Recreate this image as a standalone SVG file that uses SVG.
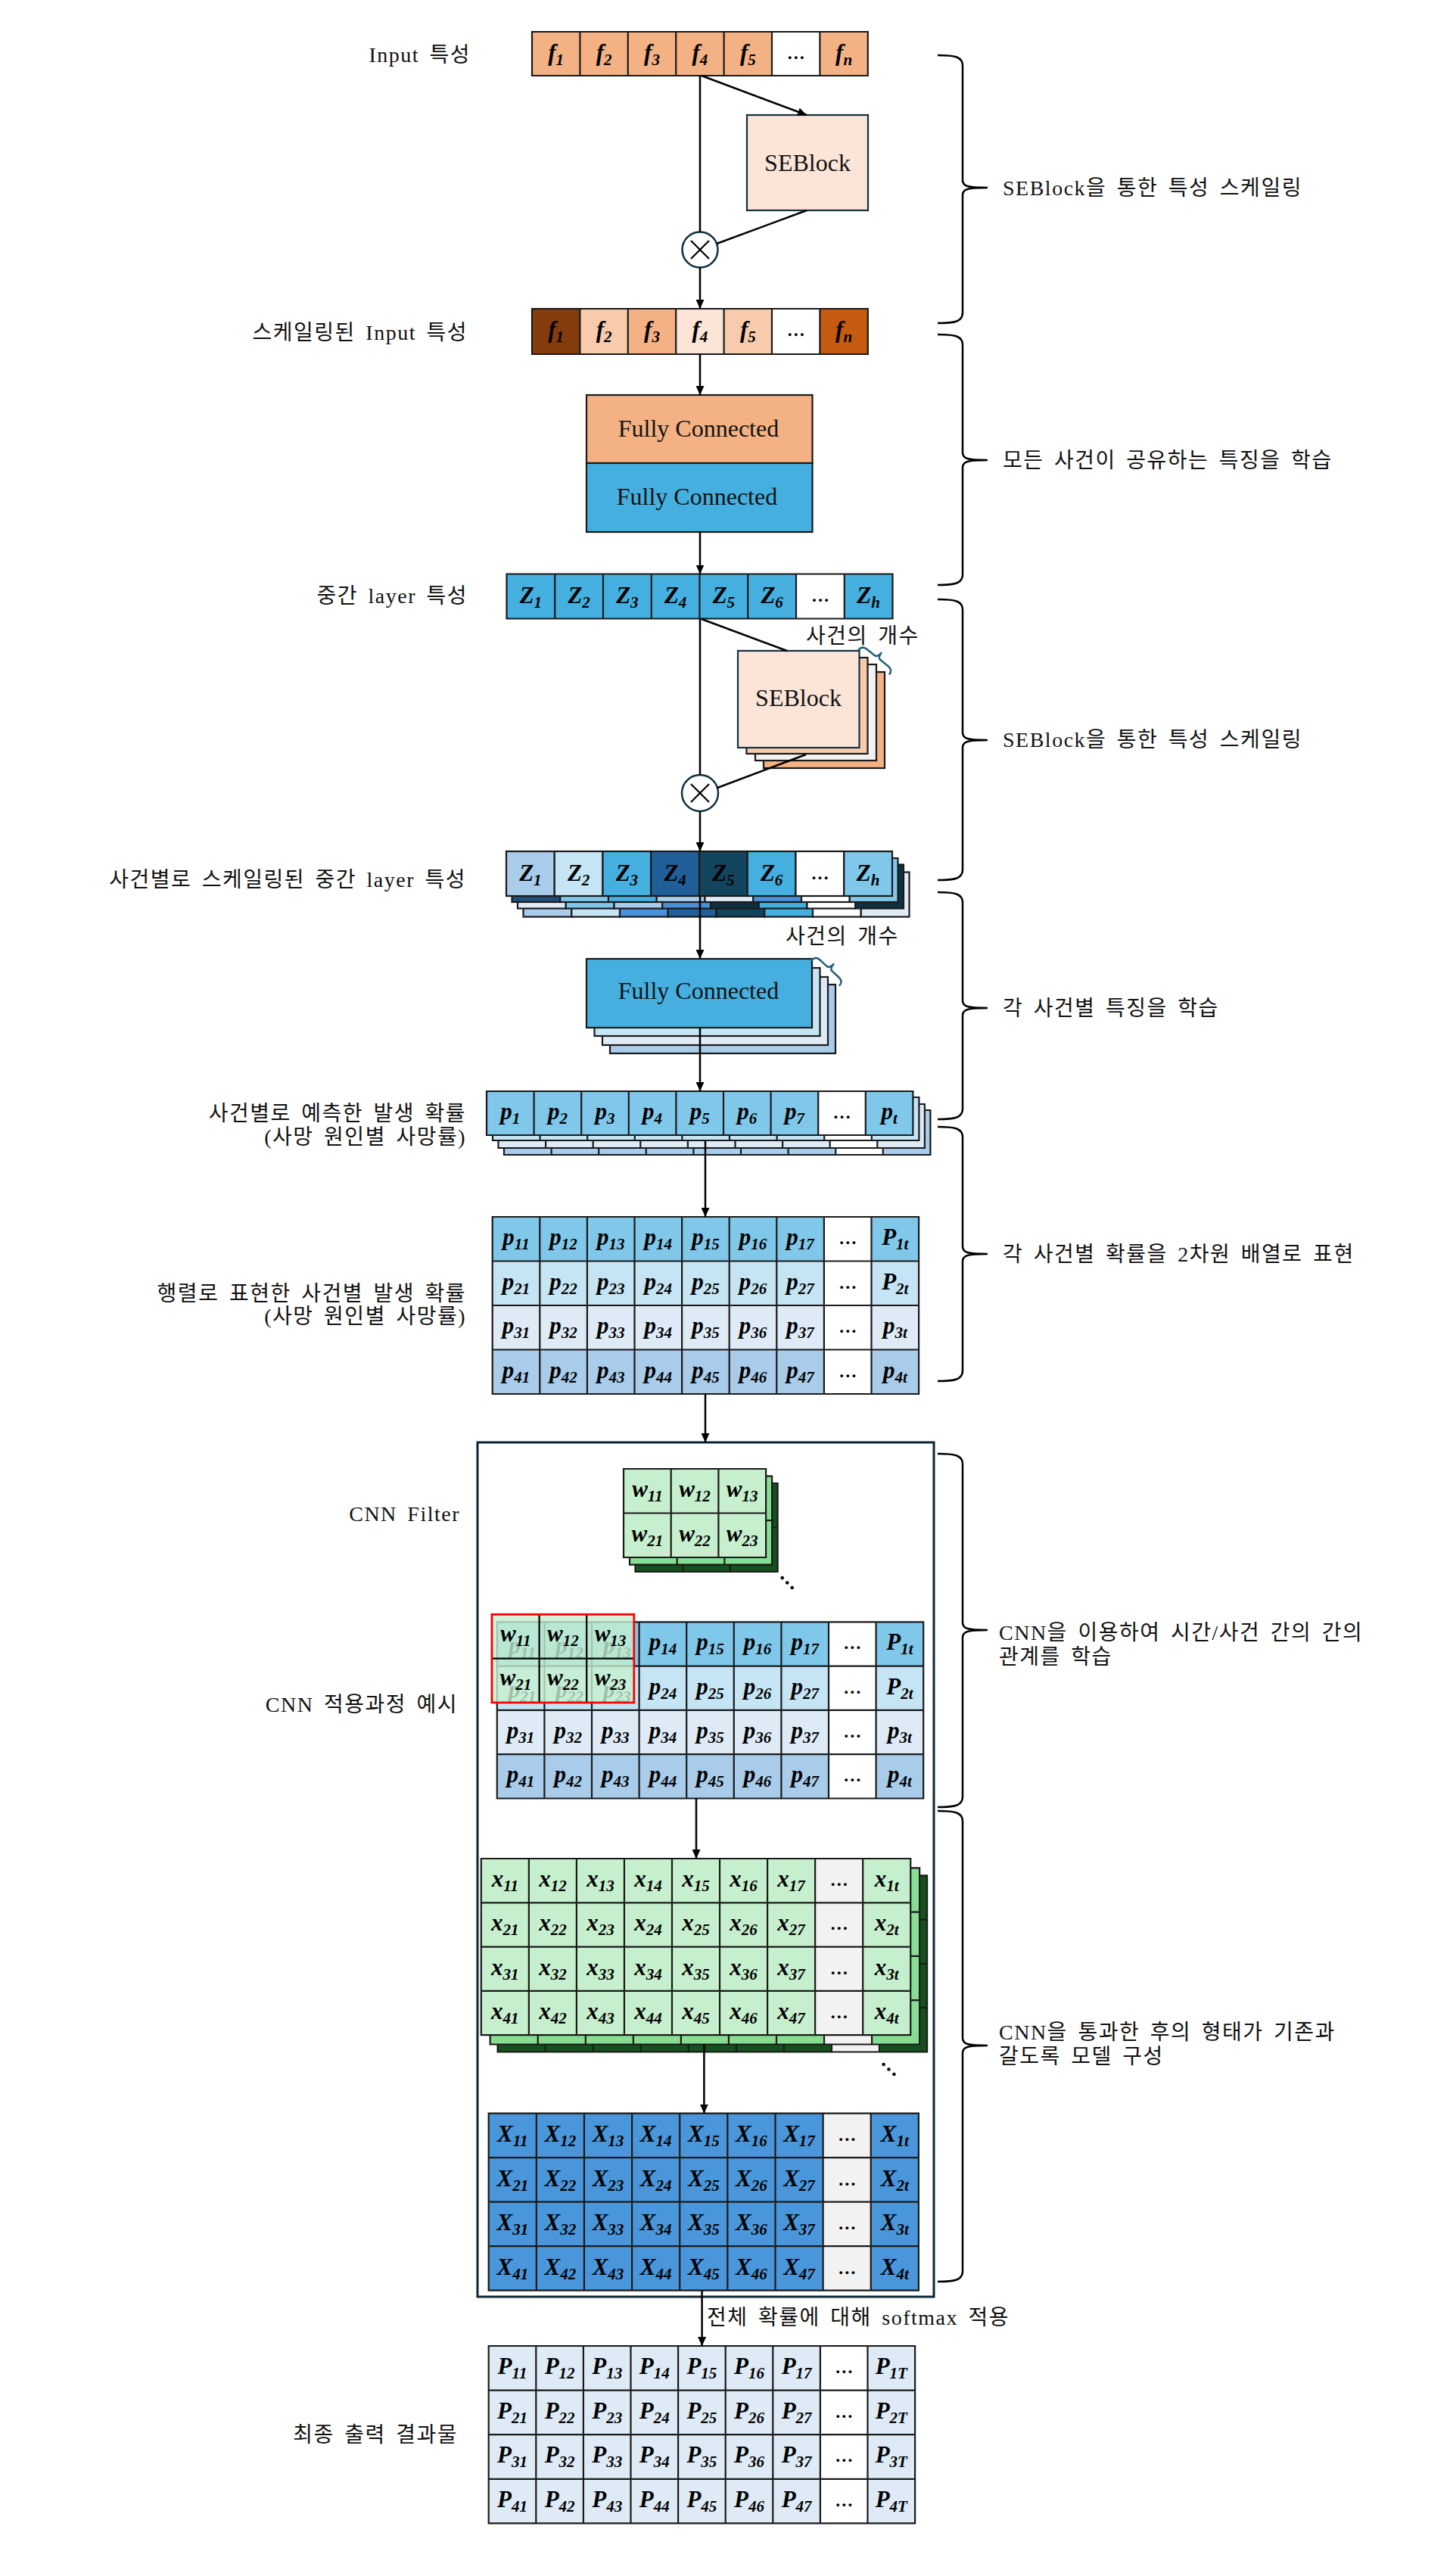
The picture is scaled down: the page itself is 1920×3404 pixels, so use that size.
<svg xmlns="http://www.w3.org/2000/svg" width="1920" height="3404" viewBox="0 0 1920 3404">
<defs>
<style>
.k{stroke:#1a1a1a;stroke-width:2.2}
.g{stroke:#1a1a1a;stroke-width:2.2;fill:none}
.m{font-family:"Liberation Serif",serif;font-weight:bold;font-style:italic;font-size:31px;text-anchor:middle;fill:#000}
.s{font-size:21px}
.d{font-family:"Liberation Serif",serif;font-weight:bold;font-size:24px;text-anchor:middle;fill:#000}
.lbl{font-family:"Liberation Serif","Noto Sans CJK KR",sans-serif;font-size:28px;fill:#111;word-spacing:5px;letter-spacing:1.5px}
.r{text-anchor:end}
.bx{font-family:"Liberation Serif",serif;font-size:32px;text-anchor:middle;fill:#111}
.cn{stroke:#000;stroke-width:2.5;fill:none}
.br{stroke:#000;stroke-width:2.5;fill:none}
.tb{stroke:#245F7E;stroke-width:2.5;fill:none}
</style>
<marker id="ah" markerWidth="12" markerHeight="11" refX="12" refY="5.5" orient="auto" markerUnits="userSpaceOnUse"><path d="M0,0 L12,5.5 L0,11 z" fill="#000"/></marker>
</defs>
<rect width="1920" height="3404" fill="#fff"/>

<g id="left-labels">
<text class="lbl r" x="622" y="82">Input 특성</text>
<text class="lbl r" x="618" y="449">스케일링된 Input 특성</text>
<text class="lbl r" x="618" y="797">중간 layer 특성</text>
<text class="lbl r" x="616" y="1172">사건별로 스케일링된 중간 layer 특성</text>
<text class="lbl r" x="616" y="1481">사건별로 예측한 발생 확률</text>
<text class="lbl r" x="616" y="1512">(사망 원인별 사망률)</text>
<text class="lbl r" x="616" y="1719">행렬로 표현한 사건별 발생 확률</text>
<text class="lbl r" x="616" y="1749">(사망 원인별 사망률)</text>
<text class="lbl r" x="608" y="2010">CNN Filter</text>
<text class="lbl r" x="605" y="2262">CNN 적용과정 예시</text>
<text class="lbl r" x="605" y="3227">최종 출력 결과물</text>
</g>

<g id="input-features">
<rect x="703" y="42" width="443.8" height="58" fill="#F4B183"/>
<rect x="1020" y="42" width="63.4" height="58" fill="#fff"/>
<path class="g" d="M703,42h443.8v58h-443.8z M766.4,42v58 M829.8,42v58 M893.2,42v58 M956.6,42v58 M1020,42v58 M1083.4,42v58"/>
<text class="m" x="734.7" y="80">f<tspan class="s" dy="6">1</tspan></text>
<text class="m" x="798.1" y="80">f<tspan class="s" dy="6">2</tspan></text>
<text class="m" x="861.5" y="80">f<tspan class="s" dy="6">3</tspan></text>
<text class="m" x="924.9" y="80">f<tspan class="s" dy="6">4</tspan></text>
<text class="m" x="988.3" y="80">f<tspan class="s" dy="6">5</tspan></text>
<text class="d" x="1051.7" y="78">…</text>
<text class="m" x="1115.1" y="80">f<tspan class="s" dy="6">n</tspan></text>
</g>

<g id="seblock-1">
<rect x="987" y="152" width="160" height="126" fill="#FCE4D6" stroke="#14303F" stroke-width="2.2"/>
<text class="bx" x="1067" y="226">SEBlock</text>
</g>

<g id="multiply-1">
<circle cx="925" cy="330" r="23.5" fill="#fff" stroke="#12303F" stroke-width="2.5"/>
<path d="M913,318 L937,342 M937,318 L913,342" stroke="#000" stroke-width="2.2"/>
</g>

<g id="scaled-input-features">
<rect x="703" y="408" width="63.4" height="60" fill="#843C0C"/>
<rect x="766.4" y="408" width="63.4" height="60" fill="#F8CBAD"/>
<rect x="829.8" y="408" width="63.4" height="60" fill="#F4B183"/>
<rect x="893.2" y="408" width="63.4" height="60" fill="#FCE4D6"/>
<rect x="956.6" y="408" width="63.4" height="60" fill="#F8CBAD"/>
<rect x="1020" y="408" width="63.4" height="60" fill="#fff"/>
<rect x="1083.4" y="408" width="63.4" height="60" fill="#C55A11"/>
<path class="g" d="M703,408h443.8v60h-443.8z M766.4,408v60 M829.8,408v60 M893.2,408v60 M956.6,408v60 M1020,408v60 M1083.4,408v60"/>
<text class="m" x="734.7" y="446">f<tspan class="s" dy="6">1</tspan></text>
<text class="m" x="798.1" y="446">f<tspan class="s" dy="6">2</tspan></text>
<text class="m" x="861.5" y="446">f<tspan class="s" dy="6">3</tspan></text>
<text class="m" x="924.9" y="446">f<tspan class="s" dy="6">4</tspan></text>
<text class="m" x="988.3" y="446">f<tspan class="s" dy="6">5</tspan></text>
<text class="d" x="1051.7" y="444">…</text>
<text class="m" x="1115.1" y="446">f<tspan class="s" dy="6">n</tspan></text>
</g>

<g id="fc-shared">
<rect class="k" x="775" y="522" width="298.5" height="90" fill="#F4B183"/>
<rect class="k" x="775" y="612" width="298.5" height="91" fill="#45B0E0"/>
<text class="bx" x="923" y="577">Fully Connected</text>
<text class="bx" x="921" y="667">Fully Connected</text>
</g>

<g id="intermediate-features">
<rect x="669.5" y="758.5" width="510" height="59" fill="#45B0E0"/>
<rect x="1052" y="758.5" width="63.75" height="59" fill="#fff"/>
<path class="g" d="M669.5,758.5h510v59h-510z M733.25,758.5v59 M797,758.5v59 M860.75,758.5v59 M924.5,758.5v59 M988.25,758.5v59 M1052,758.5v59 M1115.75,758.5v59"/>
<text class="m" x="701.4" y="797">Z<tspan class="s" dy="6">1</tspan></text>
<text class="m" x="765.1" y="797">Z<tspan class="s" dy="6">2</tspan></text>
<text class="m" x="828.9" y="797">Z<tspan class="s" dy="6">3</tspan></text>
<text class="m" x="892.6" y="797">Z<tspan class="s" dy="6">4</tspan></text>
<text class="m" x="956.4" y="797">Z<tspan class="s" dy="6">5</tspan></text>
<text class="m" x="1020.1" y="797">Z<tspan class="s" dy="6">6</tspan></text>
<text class="d" x="1083.9" y="795">…</text>
<text class="m" x="1147.6" y="797">Z<tspan class="s" dy="6">h</tspan></text>
</g>

<g id="seblock-2-stack">
<rect class="k" x="1009" y="888" width="160" height="127" fill="#F4B183"/>
<rect class="k" x="998" y="878" width="160" height="127" fill="#F2F2F2"/>
<rect class="k" x="986.5" y="869" width="160" height="127" fill="#F8CBAD"/>
<rect x="975" y="860" width="160.5" height="128" fill="#FCE4D6" stroke="#14303F" stroke-width="2.2"/>
<text class="bx" x="1055" y="933">SEBlock</text>
<text class="lbl" x="1065" y="850">사건의 개수</text>
<path class="tb" transform="translate(1159.5,869) rotate(38.3)" d="M-26,8 Q-26,0 -18,0 L-5,0 Q0,0 0,-9 Q0,0 5,0 L18,0 Q26,0 26,8"/>
</g>

<g id="multiply-2">
<circle cx="925" cy="1048" r="24" fill="#fff" stroke="#12303F" stroke-width="2.5"/>
<path d="M913,1036 L937,1060 M937,1036 L913,1060" stroke="#000" stroke-width="2.2"/>
</g>

<g id="scaled-intermediate-stack">
<rect class="k" x="691.5" y="1152.5" width="63.75" height="59" fill="#A9CCEB"/>
<rect class="k" x="755.25" y="1152.5" width="63.75" height="59" fill="#C5E5F5"/>
<rect class="k" x="819" y="1152.5" width="63.75" height="59" fill="#4A90D9"/>
<rect class="k" x="882.75" y="1152.5" width="63.75" height="59" fill="#215F9A"/>
<rect class="k" x="946.5" y="1152.5" width="63.75" height="59" fill="#12445E"/>
<rect class="k" x="1010.25" y="1152.5" width="63.75" height="59" fill="#45B0E0"/>
<rect class="k" x="1074" y="1152.5" width="63.75" height="59" fill="#fff"/>
<rect class="k" x="1137.75" y="1152.5" width="63.75" height="59" fill="#DEEBF7"/>

<rect class="k" x="684" y="1142.5" width="63.75" height="58" fill="#DEEBF7"/>
<rect class="k" x="747.75" y="1142.5" width="63.75" height="58" fill="#80C8EA"/>
<rect class="k" x="811.5" y="1142.5" width="63.75" height="58" fill="#A9CCEB"/>
<rect class="k" x="875.25" y="1142.5" width="63.75" height="58" fill="#4A90D9"/>
<rect class="k" x="939" y="1142.5" width="63.75" height="58" fill="#0F3040"/>
<rect class="k" x="1002.75" y="1142.5" width="63.75" height="58" fill="#45B0E0"/>
<rect class="k" x="1066.5" y="1142.5" width="63.75" height="58" fill="#fff"/>
<rect class="k" x="1130.25" y="1142.5" width="63.75" height="58" fill="#0F3040"/>

<rect class="k" x="676.5" y="1134" width="63.75" height="58" fill="#1F4E79"/>
<rect class="k" x="740.25" y="1134" width="63.75" height="58" fill="#80C8EA"/>
<rect class="k" x="804" y="1134" width="63.75" height="58" fill="#45B0E0"/>
<rect class="k" x="867.75" y="1134" width="63.75" height="58" fill="#A9CCEB"/>
<rect class="k" x="931.5" y="1134" width="63.75" height="58" fill="#DEEBF7"/>
<rect class="k" x="995.25" y="1134" width="63.75" height="58" fill="#4A90D9"/>
<rect class="k" x="1059" y="1134" width="63.75" height="58" fill="#fff"/>
<rect class="k" x="1122.75" y="1134" width="63.75" height="58" fill="#80C8EA"/>

<rect class="k" x="669" y="1125" width="63.75" height="59" fill="#A9CCEB"/>
<rect class="k" x="732.75" y="1125" width="63.75" height="59" fill="#C5E5F5"/>
<rect class="k" x="796.5" y="1125" width="63.75" height="59" fill="#45B0E0"/>
<rect class="k" x="860.25" y="1125" width="63.75" height="59" fill="#215F9A"/>
<rect class="k" x="924" y="1125" width="63.75" height="59" fill="#12445E"/>
<rect class="k" x="987.75" y="1125" width="63.75" height="59" fill="#45B0E0"/>
<rect class="k" x="1051.5" y="1125" width="63.75" height="59" fill="#fff"/>
<rect class="k" x="1115.25" y="1125" width="63.75" height="59" fill="#80C8EA"/>
<text class="m" x="700.9" y="1163.5">Z<tspan class="s" dy="6">1</tspan></text>
<text class="m" x="764.6" y="1163.5">Z<tspan class="s" dy="6">2</tspan></text>
<text class="m" x="828.4" y="1163.5">Z<tspan class="s" dy="6">3</tspan></text>
<text class="m" x="892.1" y="1163.5">Z<tspan class="s" dy="6">4</tspan></text>
<text class="m" x="955.9" y="1163.5">Z<tspan class="s" dy="6">5</tspan></text>
<text class="m" x="1019.6" y="1163.5">Z<tspan class="s" dy="6">6</tspan></text>
<text class="d" x="1083.4" y="1161.5">…</text>
<text class="m" x="1147.1" y="1163.5">Z<tspan class="s" dy="6">h</tspan></text>
</g>

<g id="fc-per-event-stack">
<rect class="k" x="806" y="1301" width="298" height="91" fill="#A9CCEB"/>
<rect class="k" x="796" y="1291" width="298" height="90" fill="#DEEBF7"/>
<rect class="k" x="785.5" y="1279" width="298" height="90" fill="#C5E5F5"/>
<rect class="k" x="775" y="1267" width="298" height="91" fill="#45B0E0"/>
<text class="bx" x="923" y="1320">Fully Connected</text>
<text class="lbl" x="1038" y="1247">사건의 개수</text>
<path class="tb" transform="translate(1096,1280) rotate(42.7)" d="M-25,8 Q-25,0 -17,0 L-5,0 Q0,0 0,-9 Q0,0 5,0 L17,0 Q25,0 25,8"/>
</g>

<g id="event-prob-stack">
<rect x="666" y="1467" width="563.4" height="59" fill="#A9CCEB"/>
<rect x="1104.2" y="1467" width="62.6" height="59" fill="#fff"/>
<path class="g" d="M666,1467h563.4v59h-563.4z M728.6,1467v59 M791.2,1467v59 M853.8,1467v59 M916.4,1467v59 M979,1467v59 M1041.6,1467v59 M1104.2,1467v59 M1166.8,1467v59"/>
<rect x="658.5" y="1459" width="563.4" height="58" fill="#DEEBF7"/>
<rect x="1096.7" y="1459" width="62.6" height="58" fill="#fff"/>
<path class="g" d="M658.5,1459h563.4v58h-563.4z M721.1,1459v58 M783.7,1459v58 M846.3,1459v58 M908.9,1459v58 M971.5,1459v58 M1034.1,1459v58 M1096.7,1459v58 M1159.3,1459v58"/>
<rect x="651" y="1450" width="563.4" height="57" fill="#C5E5F5"/>
<rect x="1089.2" y="1450" width="62.6" height="57" fill="#fff"/>
<path class="g" d="M651,1450h563.4v57h-563.4z M713.6,1450v57 M776.2,1450v57 M838.8,1450v57 M901.4,1450v57 M964,1450v57 M1026.6,1450v57 M1089.2,1450v57 M1151.8,1450v57"/>
<rect x="643" y="1442" width="563.4" height="58" fill="#80C8EA"/>
<rect x="1081.2" y="1442" width="62.6" height="58" fill="#fff"/>
<path class="g" d="M643,1442h563.4v58h-563.4z M705.6,1442v58 M768.2,1442v58 M830.8,1442v58 M893.4,1442v58 M956,1442v58 M1018.6,1442v58 M1081.2,1442v58 M1143.8,1442v58"/>
<text class="m" x="674.3" y="1479">p<tspan class="s" dy="6">1</tspan></text>
<text class="m" x="736.9" y="1479">p<tspan class="s" dy="6">2</tspan></text>
<text class="m" x="799.5" y="1479">p<tspan class="s" dy="6">3</tspan></text>
<text class="m" x="862.1" y="1479">p<tspan class="s" dy="6">4</tspan></text>
<text class="m" x="924.7" y="1479">p<tspan class="s" dy="6">5</tspan></text>
<text class="m" x="987.3" y="1479">p<tspan class="s" dy="6">6</tspan></text>
<text class="m" x="1049.9" y="1479">p<tspan class="s" dy="6">7</tspan></text>
<text class="d" x="1112.5" y="1478">…</text>
<text class="m" x="1175.1" y="1479">p<tspan class="s" dy="6">t</tspan></text>
</g>

<g id="prob-matrix">
<rect x="650.7" y="1608" width="563.4" height="58.5" fill="#80C8EA"/>
<rect x="650.7" y="1666.5" width="563.4" height="58.5" fill="#C5E5F5"/>
<rect x="650.7" y="1725" width="563.4" height="58.5" fill="#DEEBF7"/>
<rect x="650.7" y="1783.5" width="563.4" height="58.5" fill="#A9CCEB"/>
<rect x="1088.9" y="1608" width="62.6" height="234" fill="#fff"/>
<path class="g" d="M650.7,1608h563.4v234h-563.4z M713.3,1608v234 M775.9,1608v234 M838.5,1608v234 M901.1,1608v234 M963.7,1608v234 M1026.3,1608v234 M1088.9,1608v234 M1151.5,1608v234 M650.7,1666.5h563.4 M650.7,1725h563.4 M650.7,1783.5h563.4"/>
<text class="m" x="682" y="1645">p<tspan class="s" dy="6">11</tspan></text>
<text class="m" x="744.6" y="1645">p<tspan class="s" dy="6">12</tspan></text>
<text class="m" x="807.2" y="1645">p<tspan class="s" dy="6">13</tspan></text>
<text class="m" x="869.8" y="1645">p<tspan class="s" dy="6">14</tspan></text>
<text class="m" x="932.4" y="1645">p<tspan class="s" dy="6">15</tspan></text>
<text class="m" x="995" y="1645">p<tspan class="s" dy="6">16</tspan></text>
<text class="m" x="1057.6" y="1645">p<tspan class="s" dy="6">17</tspan></text>
<text class="d" x="1120.2" y="1644">…</text>
<text class="m" x="1182.8" y="1645">P<tspan class="s" dy="6">1t</tspan></text>
<text class="m" x="682" y="1703.5">p<tspan class="s" dy="6">21</tspan></text>
<text class="m" x="744.6" y="1703.5">p<tspan class="s" dy="6">22</tspan></text>
<text class="m" x="807.2" y="1703.5">p<tspan class="s" dy="6">23</tspan></text>
<text class="m" x="869.8" y="1703.5">p<tspan class="s" dy="6">24</tspan></text>
<text class="m" x="932.4" y="1703.5">p<tspan class="s" dy="6">25</tspan></text>
<text class="m" x="995" y="1703.5">p<tspan class="s" dy="6">26</tspan></text>
<text class="m" x="1057.6" y="1703.5">p<tspan class="s" dy="6">27</tspan></text>
<text class="d" x="1120.2" y="1702.5">…</text>
<text class="m" x="1182.8" y="1703.5">P<tspan class="s" dy="6">2t</tspan></text>
<text class="m" x="682" y="1762">p<tspan class="s" dy="6">31</tspan></text>
<text class="m" x="744.6" y="1762">p<tspan class="s" dy="6">32</tspan></text>
<text class="m" x="807.2" y="1762">p<tspan class="s" dy="6">33</tspan></text>
<text class="m" x="869.8" y="1762">p<tspan class="s" dy="6">34</tspan></text>
<text class="m" x="932.4" y="1762">p<tspan class="s" dy="6">35</tspan></text>
<text class="m" x="995" y="1762">p<tspan class="s" dy="6">36</tspan></text>
<text class="m" x="1057.6" y="1762">p<tspan class="s" dy="6">37</tspan></text>
<text class="d" x="1120.2" y="1761">…</text>
<text class="m" x="1182.8" y="1762">p<tspan class="s" dy="6">3t</tspan></text>
<text class="m" x="682" y="1820.5">p<tspan class="s" dy="6">41</tspan></text>
<text class="m" x="744.6" y="1820.5">p<tspan class="s" dy="6">42</tspan></text>
<text class="m" x="807.2" y="1820.5">p<tspan class="s" dy="6">43</tspan></text>
<text class="m" x="869.8" y="1820.5">p<tspan class="s" dy="6">44</tspan></text>
<text class="m" x="932.4" y="1820.5">p<tspan class="s" dy="6">45</tspan></text>
<text class="m" x="995" y="1820.5">p<tspan class="s" dy="6">46</tspan></text>
<text class="m" x="1057.6" y="1820.5">p<tspan class="s" dy="6">47</tspan></text>
<text class="d" x="1120.2" y="1819.5">…</text>
<text class="m" x="1182.8" y="1820.5">p<tspan class="s" dy="6">4t</tspan></text>
</g>

<g id="cnn-box">
<rect x="631" y="1906" width="603" height="1129" fill="none" stroke="#0B2535" stroke-width="3"/>
</g>

<g id="cnn-filter-stack">
<rect x="839.5" y="1960" width="188.1" height="117" fill="#17501F"/>
<path class="g" d="M839.5,1960h188.1v117h-188.1z M902.2,1960v117 M964.9,1960v117 M839.5,2018.5h188.1"/>
<rect x="832" y="1950.7" width="188.1" height="117" fill="#86DE92"/>
<path class="g" d="M832,1950.7h188.1v117h-188.1z M894.7,1950.7v117 M957.4,1950.7v117 M832,2009.2h188.1"/>
<rect x="824" y="1941" width="188.1" height="117" fill="#C6EFCE"/>
<path class="g" d="M824,1941h188.1v117h-188.1z M886.7,1941v117 M949.4,1941v117 M824,1999.5h188.1"/>
<text class="m" x="855.4" y="1978">w<tspan class="s" dy="6">11</tspan></text>
<text class="m" x="918" y="1978">w<tspan class="s" dy="6">12</tspan></text>
<text class="m" x="980.7" y="1978">w<tspan class="s" dy="6">13</tspan></text>
<text class="m" x="855.4" y="2036.5">w<tspan class="s" dy="6">21</tspan></text>
<text class="m" x="918" y="2036.5">w<tspan class="s" dy="6">22</tspan></text>
<text class="m" x="980.7" y="2036.5">w<tspan class="s" dy="6">23</tspan></text>
<circle cx="1033.7" cy="2085" r="2.3" fill="#000"/>
<circle cx="1040.2" cy="2091.5" r="2.3" fill="#000"/>
<circle cx="1046.7" cy="2098" r="2.3" fill="#000"/>
</g>

<g id="cnn-example">
<rect x="656.8" y="2143.3" width="563.4" height="58.3" fill="#80C8EA"/>
<rect x="656.8" y="2201.6" width="563.4" height="58.3" fill="#C5E5F5"/>
<rect x="656.8" y="2259.9" width="563.4" height="58.3" fill="#DEEBF7"/>
<rect x="656.8" y="2318.2" width="563.4" height="58.3" fill="#A9CCEB"/>
<rect x="1095" y="2143.3" width="62.6" height="233.2" fill="#fff"/>
<path class="g" d="M656.8,2143.3h563.4v233.2h-563.4z M719.4,2143.3v233.2 M782,2143.3v233.2 M844.6,2143.3v233.2 M907.2,2143.3v233.2 M969.8,2143.3v233.2 M1032.4,2143.3v233.2 M1095,2143.3v233.2 M1157.6,2143.3v233.2 M656.8,2201.6h563.4 M656.8,2259.9h563.4 M656.8,2318.2h563.4"/>
<text class="m" x="690" y="2185">p<tspan class="s" dy="6">11</tspan></text>
<text class="m" x="752.6" y="2185">p<tspan class="s" dy="6">12</tspan></text>
<text class="m" x="815.2" y="2185">p<tspan class="s" dy="6">13</tspan></text>
<text class="m" x="875.9" y="2180.3">p<tspan class="s" dy="6">14</tspan></text>
<text class="m" x="938.5" y="2180.3">p<tspan class="s" dy="6">15</tspan></text>
<text class="m" x="1001.1" y="2180.3">p<tspan class="s" dy="6">16</tspan></text>
<text class="m" x="1063.7" y="2180.3">p<tspan class="s" dy="6">17</tspan></text>
<text class="d" x="1126.3" y="2179.3">…</text>
<text class="m" x="1188.9" y="2180.3">P<tspan class="s" dy="6">1t</tspan></text>
<text class="m" x="690" y="2243.3">p<tspan class="s" dy="6">21</tspan></text>
<text class="m" x="752.6" y="2243.3">p<tspan class="s" dy="6">22</tspan></text>
<text class="m" x="815.2" y="2243.3">p<tspan class="s" dy="6">23</tspan></text>
<text class="m" x="875.9" y="2238.6">p<tspan class="s" dy="6">24</tspan></text>
<text class="m" x="938.5" y="2238.6">p<tspan class="s" dy="6">25</tspan></text>
<text class="m" x="1001.1" y="2238.6">p<tspan class="s" dy="6">26</tspan></text>
<text class="m" x="1063.7" y="2238.6">p<tspan class="s" dy="6">27</tspan></text>
<text class="d" x="1126.3" y="2237.6">…</text>
<text class="m" x="1188.9" y="2238.6">P<tspan class="s" dy="6">2t</tspan></text>
<text class="m" x="688.1" y="2296.9">p<tspan class="s" dy="6">31</tspan></text>
<text class="m" x="750.7" y="2296.9">p<tspan class="s" dy="6">32</tspan></text>
<text class="m" x="813.3" y="2296.9">p<tspan class="s" dy="6">33</tspan></text>
<text class="m" x="875.9" y="2296.9">p<tspan class="s" dy="6">34</tspan></text>
<text class="m" x="938.5" y="2296.9">p<tspan class="s" dy="6">35</tspan></text>
<text class="m" x="1001.1" y="2296.9">p<tspan class="s" dy="6">36</tspan></text>
<text class="m" x="1063.7" y="2296.9">p<tspan class="s" dy="6">37</tspan></text>
<text class="d" x="1126.3" y="2295.9">…</text>
<text class="m" x="1188.9" y="2296.9">p<tspan class="s" dy="6">3t</tspan></text>
<text class="m" x="688.1" y="2355.2">p<tspan class="s" dy="6">41</tspan></text>
<text class="m" x="750.7" y="2355.2">p<tspan class="s" dy="6">42</tspan></text>
<text class="m" x="813.3" y="2355.2">p<tspan class="s" dy="6">43</tspan></text>
<text class="m" x="875.9" y="2355.2">p<tspan class="s" dy="6">44</tspan></text>
<text class="m" x="938.5" y="2355.2">p<tspan class="s" dy="6">45</tspan></text>
<text class="m" x="1001.1" y="2355.2">p<tspan class="s" dy="6">46</tspan></text>
<text class="m" x="1063.7" y="2355.2">p<tspan class="s" dy="6">47</tspan></text>
<text class="d" x="1126.3" y="2354.2">…</text>
<text class="m" x="1188.9" y="2355.2">p<tspan class="s" dy="6">4t</tspan></text>
<rect x="650" y="2133.3" width="187.8" height="116.6" fill="#C6EFCE" fill-opacity="0.8"/>
<path d="M712.6,2133.3v116.6 M775.2,2133.3v116.6 M650,2191.6h187.8" stroke="#000" stroke-width="2.2"/>
<rect x="650" y="2133.3" width="187.8" height="116.6" fill="none" stroke="#FF0000" stroke-width="2.8"/>
<text class="m" x="681.3" y="2169">w<tspan class="s" dy="6">11</tspan></text>
<text class="m" x="743.9" y="2169">w<tspan class="s" dy="6">12</tspan></text>
<text class="m" x="806.5" y="2169">w<tspan class="s" dy="6">13</tspan></text>
<text class="m" x="681.3" y="2227.3">w<tspan class="s" dy="6">21</tspan></text>
<text class="m" x="743.9" y="2227.3">w<tspan class="s" dy="6">22</tspan></text>
<text class="m" x="806.5" y="2227.3">w<tspan class="s" dy="6">23</tspan></text>
</g>

<g id="cnn-output-stack">
<rect x="657.6" y="2478.3" width="567.45" height="233.2" fill="#17501F"/>
<rect x="1098.95" y="2478.3" width="63.05" height="233.2" fill="#F2F2F2"/>
<path class="g" d="M657.6,2478.3h567.45v233.2h-567.45z M720.65,2478.3v233.2 M783.7,2478.3v233.2 M846.75,2478.3v233.2 M909.8,2478.3v233.2 M972.85,2478.3v233.2 M1035.9,2478.3v233.2 M1098.95,2478.3v233.2 M1162,2478.3v233.2 M657.6,2536.6h567.45 M657.6,2594.9h567.45 M657.6,2653.2h567.45"/>
<rect x="647.7" y="2468.3" width="567.45" height="233.2" fill="#86DE92"/>
<rect x="1089.05" y="2468.3" width="63.05" height="233.2" fill="#F2F2F2"/>
<path class="g" d="M647.7,2468.3h567.45v233.2h-567.45z M710.75,2468.3v233.2 M773.8,2468.3v233.2 M836.85,2468.3v233.2 M899.9,2468.3v233.2 M962.95,2468.3v233.2 M1026,2468.3v233.2 M1089.05,2468.3v233.2 M1152.1,2468.3v233.2 M647.7,2526.6h567.45 M647.7,2584.9h567.45 M647.7,2643.2h567.45"/>
<rect x="635.8" y="2456" width="567.45" height="233.2" fill="#C6EFCE"/>
<rect x="1077.15" y="2456" width="63.05" height="233.2" fill="#F2F2F2"/>
<path class="g" d="M635.8,2456h567.45v233.2h-567.45z M698.85,2456v233.2 M761.9,2456v233.2 M824.95,2456v233.2 M888,2456v233.2 M951.05,2456v233.2 M1014.1,2456v233.2 M1077.15,2456v233.2 M1140.2,2456v233.2 M635.8,2514.3h567.45 M635.8,2572.6h567.45 M635.8,2630.9h567.45"/>
<text class="m" x="667.3" y="2493">x<tspan class="s" dy="6">11</tspan></text>
<text class="m" x="730.4" y="2493">x<tspan class="s" dy="6">12</tspan></text>
<text class="m" x="793.4" y="2493">x<tspan class="s" dy="6">13</tspan></text>
<text class="m" x="856.5" y="2493">x<tspan class="s" dy="6">14</tspan></text>
<text class="m" x="919.5" y="2493">x<tspan class="s" dy="6">15</tspan></text>
<text class="m" x="982.6" y="2493">x<tspan class="s" dy="6">16</tspan></text>
<text class="m" x="1045.6" y="2493">x<tspan class="s" dy="6">17</tspan></text>
<text class="d" x="1108.7" y="2492">…</text>
<text class="m" x="1171.7" y="2493">x<tspan class="s" dy="6">1t</tspan></text>
<text class="m" x="667.3" y="2551.3">x<tspan class="s" dy="6">21</tspan></text>
<text class="m" x="730.4" y="2551.3">x<tspan class="s" dy="6">22</tspan></text>
<text class="m" x="793.4" y="2551.3">x<tspan class="s" dy="6">23</tspan></text>
<text class="m" x="856.5" y="2551.3">x<tspan class="s" dy="6">24</tspan></text>
<text class="m" x="919.5" y="2551.3">x<tspan class="s" dy="6">25</tspan></text>
<text class="m" x="982.6" y="2551.3">x<tspan class="s" dy="6">26</tspan></text>
<text class="m" x="1045.6" y="2551.3">x<tspan class="s" dy="6">27</tspan></text>
<text class="d" x="1108.7" y="2550.3">…</text>
<text class="m" x="1171.7" y="2551.3">x<tspan class="s" dy="6">2t</tspan></text>
<text class="m" x="667.3" y="2609.6">x<tspan class="s" dy="6">31</tspan></text>
<text class="m" x="730.4" y="2609.6">x<tspan class="s" dy="6">32</tspan></text>
<text class="m" x="793.4" y="2609.6">x<tspan class="s" dy="6">33</tspan></text>
<text class="m" x="856.5" y="2609.6">x<tspan class="s" dy="6">34</tspan></text>
<text class="m" x="919.5" y="2609.6">x<tspan class="s" dy="6">35</tspan></text>
<text class="m" x="982.6" y="2609.6">x<tspan class="s" dy="6">36</tspan></text>
<text class="m" x="1045.6" y="2609.6">x<tspan class="s" dy="6">37</tspan></text>
<text class="d" x="1108.7" y="2608.6">…</text>
<text class="m" x="1171.7" y="2609.6">x<tspan class="s" dy="6">3t</tspan></text>
<text class="m" x="667.3" y="2667.9">x<tspan class="s" dy="6">41</tspan></text>
<text class="m" x="730.4" y="2667.9">x<tspan class="s" dy="6">42</tspan></text>
<text class="m" x="793.4" y="2667.9">x<tspan class="s" dy="6">43</tspan></text>
<text class="m" x="856.5" y="2667.9">x<tspan class="s" dy="6">44</tspan></text>
<text class="m" x="919.5" y="2667.9">x<tspan class="s" dy="6">45</tspan></text>
<text class="m" x="982.6" y="2667.9">x<tspan class="s" dy="6">46</tspan></text>
<text class="m" x="1045.6" y="2667.9">x<tspan class="s" dy="6">47</tspan></text>
<text class="d" x="1108.7" y="2666.9">…</text>
<text class="m" x="1171.7" y="2667.9">x<tspan class="s" dy="6">4t</tspan></text>
<circle cx="1167.6" cy="2728" r="2.3" fill="#000"/>
<circle cx="1174.5" cy="2734.5" r="2.3" fill="#000"/>
<circle cx="1181.4" cy="2741" r="2.3" fill="#000"/>
</g>

<g id="reshaped-matrix">
<rect x="645.7" y="2792.7" width="568.2" height="234" fill="#4A96DA"/>
<rect x="1087.61" y="2792.7" width="63.13" height="234" fill="#F2F2F2"/>
<path class="g" d="M645.7,2792.7h568.2v234h-568.2z M708.83,2792.7v234 M771.96,2792.7v234 M835.09,2792.7v234 M898.22,2792.7v234 M961.35,2792.7v234 M1024.48,2792.7v234 M1087.61,2792.7v234 M1150.74,2792.7v234 M645.7,2851.2h568.2 M645.7,2909.7h568.2 M645.7,2968.2h568.2"/>
<text class="m" x="677.3" y="2830">X<tspan class="s" dy="6">11</tspan></text>
<text class="m" x="740.4" y="2830">X<tspan class="s" dy="6">12</tspan></text>
<text class="m" x="803.5" y="2830">X<tspan class="s" dy="6">13</tspan></text>
<text class="m" x="866.7" y="2830">X<tspan class="s" dy="6">14</tspan></text>
<text class="m" x="929.8" y="2830">X<tspan class="s" dy="6">15</tspan></text>
<text class="m" x="992.9" y="2830">X<tspan class="s" dy="6">16</tspan></text>
<text class="m" x="1056" y="2830">X<tspan class="s" dy="6">17</tspan></text>
<text class="d" x="1119.2" y="2829">…</text>
<text class="m" x="1182.3" y="2830">X<tspan class="s" dy="6">1t</tspan></text>
<text class="m" x="677.3" y="2888.5">X<tspan class="s" dy="6">21</tspan></text>
<text class="m" x="740.4" y="2888.5">X<tspan class="s" dy="6">22</tspan></text>
<text class="m" x="803.5" y="2888.5">X<tspan class="s" dy="6">23</tspan></text>
<text class="m" x="866.7" y="2888.5">X<tspan class="s" dy="6">24</tspan></text>
<text class="m" x="929.8" y="2888.5">X<tspan class="s" dy="6">25</tspan></text>
<text class="m" x="992.9" y="2888.5">X<tspan class="s" dy="6">26</tspan></text>
<text class="m" x="1056" y="2888.5">X<tspan class="s" dy="6">27</tspan></text>
<text class="d" x="1119.2" y="2887.5">…</text>
<text class="m" x="1182.3" y="2888.5">X<tspan class="s" dy="6">2t</tspan></text>
<text class="m" x="677.3" y="2947">X<tspan class="s" dy="6">31</tspan></text>
<text class="m" x="740.4" y="2947">X<tspan class="s" dy="6">32</tspan></text>
<text class="m" x="803.5" y="2947">X<tspan class="s" dy="6">33</tspan></text>
<text class="m" x="866.7" y="2947">X<tspan class="s" dy="6">34</tspan></text>
<text class="m" x="929.8" y="2947">X<tspan class="s" dy="6">35</tspan></text>
<text class="m" x="992.9" y="2947">X<tspan class="s" dy="6">36</tspan></text>
<text class="m" x="1056" y="2947">X<tspan class="s" dy="6">37</tspan></text>
<text class="d" x="1119.2" y="2946">…</text>
<text class="m" x="1182.3" y="2947">X<tspan class="s" dy="6">3t</tspan></text>
<text class="m" x="677.3" y="3005.5">X<tspan class="s" dy="6">41</tspan></text>
<text class="m" x="740.4" y="3005.5">X<tspan class="s" dy="6">42</tspan></text>
<text class="m" x="803.5" y="3005.5">X<tspan class="s" dy="6">43</tspan></text>
<text class="m" x="866.7" y="3005.5">X<tspan class="s" dy="6">44</tspan></text>
<text class="m" x="929.8" y="3005.5">X<tspan class="s" dy="6">45</tspan></text>
<text class="m" x="992.9" y="3005.5">X<tspan class="s" dy="6">46</tspan></text>
<text class="m" x="1056" y="3005.5">X<tspan class="s" dy="6">47</tspan></text>
<text class="d" x="1119.2" y="3004.5">…</text>
<text class="m" x="1182.3" y="3005.5">X<tspan class="s" dy="6">4t</tspan></text>
</g>

<g id="final-output">
<rect x="645.7" y="3100" width="563.4" height="234.4" fill="#DEEBF7"/>
<rect x="1083.9" y="3100" width="62.6" height="234.4" fill="#fff"/>
<path class="g" d="M645.7,3100h563.4v234.4h-563.4z M708.3,3100v234.4 M770.9,3100v234.4 M833.5,3100v234.4 M896.1,3100v234.4 M958.7,3100v234.4 M1021.3,3100v234.4 M1083.9,3100v234.4 M1146.5,3100v234.4 M645.7,3158.6h563.4 M645.7,3217.2h563.4 M645.7,3275.8h563.4"/>
<text class="m" x="677" y="3137">P<tspan class="s" dy="6">11</tspan></text>
<text class="m" x="739.6" y="3137">P<tspan class="s" dy="6">12</tspan></text>
<text class="m" x="802.2" y="3137">P<tspan class="s" dy="6">13</tspan></text>
<text class="m" x="864.8" y="3137">P<tspan class="s" dy="6">14</tspan></text>
<text class="m" x="927.4" y="3137">P<tspan class="s" dy="6">15</tspan></text>
<text class="m" x="990" y="3137">P<tspan class="s" dy="6">16</tspan></text>
<text class="m" x="1052.6" y="3137">P<tspan class="s" dy="6">17</tspan></text>
<text class="d" x="1115.2" y="3136">…</text>
<text class="m" x="1177.8" y="3137">P<tspan class="s" dy="6">1T</tspan></text>
<text class="m" x="677" y="3195.6">P<tspan class="s" dy="6">21</tspan></text>
<text class="m" x="739.6" y="3195.6">P<tspan class="s" dy="6">22</tspan></text>
<text class="m" x="802.2" y="3195.6">P<tspan class="s" dy="6">23</tspan></text>
<text class="m" x="864.8" y="3195.6">P<tspan class="s" dy="6">24</tspan></text>
<text class="m" x="927.4" y="3195.6">P<tspan class="s" dy="6">25</tspan></text>
<text class="m" x="990" y="3195.6">P<tspan class="s" dy="6">26</tspan></text>
<text class="m" x="1052.6" y="3195.6">P<tspan class="s" dy="6">27</tspan></text>
<text class="d" x="1115.2" y="3194.6">…</text>
<text class="m" x="1177.8" y="3195.6">P<tspan class="s" dy="6">2T</tspan></text>
<text class="m" x="677" y="3254.2">P<tspan class="s" dy="6">31</tspan></text>
<text class="m" x="739.6" y="3254.2">P<tspan class="s" dy="6">32</tspan></text>
<text class="m" x="802.2" y="3254.2">P<tspan class="s" dy="6">33</tspan></text>
<text class="m" x="864.8" y="3254.2">P<tspan class="s" dy="6">34</tspan></text>
<text class="m" x="927.4" y="3254.2">P<tspan class="s" dy="6">35</tspan></text>
<text class="m" x="990" y="3254.2">P<tspan class="s" dy="6">36</tspan></text>
<text class="m" x="1052.6" y="3254.2">P<tspan class="s" dy="6">37</tspan></text>
<text class="d" x="1115.2" y="3253.2">…</text>
<text class="m" x="1177.8" y="3254.2">P<tspan class="s" dy="6">3T</tspan></text>
<text class="m" x="677" y="3312.8">P<tspan class="s" dy="6">41</tspan></text>
<text class="m" x="739.6" y="3312.8">P<tspan class="s" dy="6">42</tspan></text>
<text class="m" x="802.2" y="3312.8">P<tspan class="s" dy="6">43</tspan></text>
<text class="m" x="864.8" y="3312.8">P<tspan class="s" dy="6">44</tspan></text>
<text class="m" x="927.4" y="3312.8">P<tspan class="s" dy="6">45</tspan></text>
<text class="m" x="990" y="3312.8">P<tspan class="s" dy="6">46</tspan></text>
<text class="m" x="1052.6" y="3312.8">P<tspan class="s" dy="6">47</tspan></text>
<text class="d" x="1115.2" y="3311.8">…</text>
<text class="m" x="1177.8" y="3312.8">P<tspan class="s" dy="6">4T</tspan></text>
</g>

<g id="connectors">
<line class="cn" x1="925" y1="100" x2="925" y2="306.5"/>
<line class="cn" x1="927" y1="100" x2="1066" y2="152" marker-end="url(#ah)"/>
<line class="cn" x1="1066" y1="278" x2="947" y2="322"/>
<line class="cn" x1="925" y1="353.5" x2="925" y2="408" marker-end="url(#ah)"/>
<line class="cn" x1="925" y1="468" x2="925" y2="522" marker-end="url(#ah)"/>
<line class="cn" x1="925" y1="703" x2="925" y2="758.5" marker-end="url(#ah)"/>
<line class="cn" x1="925" y1="817.5" x2="925" y2="1024"/>
<line class="cn" x1="927" y1="818" x2="1040" y2="860"/>
<line class="cn" x1="1065" y1="997" x2="948" y2="1041"/>
<line class="cn" x1="925" y1="1072" x2="925" y2="1125" marker-end="url(#ah)"/>
<line class="cn" x1="925" y1="1184" x2="925" y2="1267" marker-end="url(#ah)"/>
<line class="cn" x1="925" y1="1358" x2="925" y2="1442" marker-end="url(#ah)"/>
<line class="cn" x1="932" y1="1507" x2="932" y2="1608" marker-end="url(#ah)"/>
<line class="cn" x1="932" y1="1842" x2="932" y2="1906" marker-end="url(#ah)"/>
<line class="cn" x1="920" y1="2376.5" x2="920" y2="2456" marker-end="url(#ah)"/>
<line class="cn" x1="930.4" y1="2701.5" x2="930.4" y2="2792.7" marker-end="url(#ah)"/>
<line class="cn" x1="927.6" y1="3026.7" x2="927.6" y2="3100" marker-end="url(#ah)"/>
<text class="lbl" x="934" y="3072">전체 확률에 대해 softmax 적용</text>
</g>

<g id="right-braces">
<path class="br" d="M1239,73 C1262,73 1272,75 1272,87 L1272,238 C1272,246 1278,248 1305,248 M1305,248 C1278,248 1272,250 1272,258 L1272,413 C1272,425 1262,427 1239,427"/>
<path class="br" d="M1239,442 C1262,442 1272,444 1272,456 L1272,598 C1272,606 1278,608 1305,608 M1305,608 C1278,608 1272,610 1272,618 L1272,759 C1272,771 1262,773 1239,773"/>
<path class="br" d="M1239,792 C1262,792 1272,794 1272,806 L1272,968 C1272,976 1278,978 1305,978 M1305,978 C1278,978 1272,980 1272,988 L1272,1149 C1272,1161 1262,1163 1239,1163"/>
<path class="br" d="M1239,1179 C1262,1179 1272,1181 1272,1193 L1272,1322 C1272,1330 1278,1332 1305,1332 M1305,1332 C1278,1332 1272,1334 1272,1342 L1272,1465 C1272,1477 1262,1479 1239,1479"/>
<path class="br" d="M1239,1489 C1262,1489 1272,1491 1272,1503 L1272,1647 C1272,1655 1278,1657 1305,1657 M1305,1657 C1278,1657 1272,1659 1272,1667 L1272,1811 C1272,1823 1262,1825 1239,1825"/>
<path class="br" d="M1239,1921 C1262,1921 1272,1923 1272,1935 L1272,2144 C1272,2152 1278,2154 1305,2154 M1305,2154 C1278,2154 1272,2156 1272,2164 L1272,2374 C1272,2386 1262,2388 1239,2388"/>
<path class="br" d="M1239,2393 C1262,2393 1272,2395 1272,2407 L1272,2693 C1272,2701 1278,2703 1305,2703 M1305,2703 C1278,2703 1272,2705 1272,2713 L1272,3001 C1272,3013 1262,3015 1239,3015"/>
<text class="lbl" x="1325" y="258">SEBlock을 통한 특성 스케일링</text>
<text class="lbl" x="1325" y="618">모든 사건이 공유하는 특징을 학습</text>
<text class="lbl" x="1325" y="987">SEBlock을 통한 특성 스케일링</text>
<text class="lbl" x="1325" y="1342">각 사건별 특징을 학습</text>
<text class="lbl" x="1325" y="1667">각 사건별 확률을 2차원 배열로 표현</text>
<text class="lbl" x="1320" y="2167">CNN을 이용하여 시간/사건 간의 간의</text>
<text class="lbl" x="1320" y="2199">관계를 학습</text>
<text class="lbl" x="1320" y="2695">CNN을 통과한 후의 형태가 기존과</text>
<text class="lbl" x="1320" y="2727">갈도록 모델 구성</text>
</g>
</svg>
